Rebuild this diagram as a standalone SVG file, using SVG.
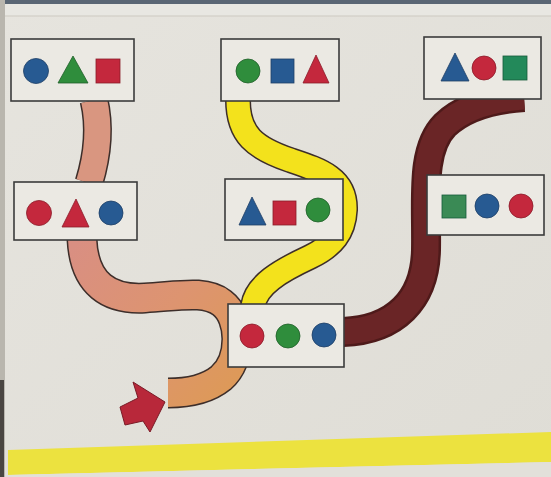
<svg xmlns="http://www.w3.org/2000/svg" width="551" height="477" viewBox="0 0 551 477">
<style>
.box{fill:#ebe9e3;stroke:#3b3b3b;stroke-width:1.6}
.blue{fill:#275a92;stroke:#1e3f66;stroke-width:0.8}
.red{fill:#c4283d;stroke:#8a1c2a;stroke-width:0.8}
.green{fill:#2f8d3c;stroke:#1f5e28;stroke-width:0.8}
.teal{fill:#23895a;stroke:#165a3b;stroke-width:0.8}
.outline{fill:none;stroke:#3d2e2a;stroke-linecap:butt}
</style>
<defs>
<linearGradient id="salmonGrad" gradientUnits="userSpaceOnUse" x1="70" y1="250" x2="240" y2="400">
<stop offset="0" stop-color="#d98f82"/>
<stop offset="0.5" stop-color="#dd9470"/>
<stop offset="1" stop-color="#dd9a55"/>
</linearGradient>
<linearGradient id="paper" x1="0" y1="0" x2="1" y2="1">
<stop offset="0" stop-color="#e6e4de"/>
<stop offset="1" stop-color="#dfddd6"/>
</linearGradient>
</defs>
<!-- background -->
<rect x="0" y="0" width="551" height="477" fill="url(#paper)"/>
<rect x="0" y="0" width="551" height="4" fill="#5a6674"/>
<rect x="0" y="4" width="551" height="12" fill="#e8e7e2"/>
<line x1="0" y1="16" x2="551" y2="16" stroke="#cdc9c1" stroke-width="1"/>
<rect x="0" y="0" width="5" height="477" fill="#b9b6ae"/>
<rect x="0" y="380" width="4" height="97" fill="#4a4642"/>
<polygon points="8,450 551,432 551,462 8,475" fill="#ece23f"/>
<polygon points="8,475 551,462 551,477 8,477" fill="#e2e0da"/>

<g id="connectors">
<!-- salmon: top-left to middle-left -->
<path class="outline" d="M94 100 C101 130 96 160 89 183" stroke-width="29"/>
<path d="M94 100 C101 130 96 160 89 183" fill="none" stroke="#d99680" stroke-width="26"/>
<!-- salmon: middle-left to start (U-turn) -->
<path class="outline" d="M82 239 C84 285 110 300 145 298 C180 296 205 290 222 303 C242 318 242 360 221 378 C205 391 185 393 168 393" stroke-width="31"/>
<path d="M82 239 C84 285 110 300 145 298 C180 296 205 290 222 303 C242 318 242 360 221 378 C205 391 185 393 168 393" fill="none" stroke="url(#salmonGrad)" stroke-width="28"/>
<!-- yellow: top-middle to bottom-middle -->
<path class="outline" d="M238 100 C238 135 255 148 290 160 C320 170 346 178 345 210 C344 232 333 246 310 257 C280 271 256 285 253 306" stroke-width="26"/>
<path d="M238 100 C238 135 255 148 290 160 C320 170 346 178 345 210 C344 232 333 246 310 257 C280 271 256 285 253 306" fill="none" stroke="#f3e21c" stroke-width="23"/>
<!-- maroon: bottom-middle to top-right -->
<path d="M343 332 C395 330 425 300 426 250 C427 200 420 150 445 125 C465 106 495 99 524 97" fill="none" stroke="#4e1a1a" stroke-width="30"/>
<path d="M343 332 C395 330 425 300 426 250 C427 200 420 150 445 125 C465 106 495 99 524 97" fill="none" stroke="#6a2526" stroke-width="25"/>
</g>

<g id="start-arrow">
<polygon points="133,382 165,402 150,432 143,421 125,425 120,407 138,398" fill="#b8283a" stroke="#7a1a26" stroke-width="1"/>
</g>

<g id="node-top-left">
<rect class="box" x="11" y="39" width="123" height="62"/>
<circle class="blue" cx="36" cy="71" r="12.5"/>
<polygon class="green" points="73,56 88,83 58,83"/>
<rect class="red" x="96" y="59" width="24" height="24"/>
</g>

<g id="node-mid-left">
<rect class="box" x="14" y="182" width="123" height="58"/>
<circle class="red" cx="39" cy="213" r="12.5"/>
<polygon class="red" points="76,199 89,227 62,227"/>
<circle class="blue" cx="111" cy="213" r="12"/>
</g>

<g id="node-top-mid">
<rect class="box" x="221" y="39" width="118" height="62"/>
<circle class="green" cx="248" cy="71" r="12"/>
<rect class="blue" x="271" y="59" width="23" height="24"/>
<polygon class="red" points="316,55 329,83 303,83"/>
</g>

<g id="node-mid">
<rect class="box" x="225" y="179" width="118" height="61"/>
<polygon class="blue" points="252,197 266,225 239,225"/>
<rect class="red" x="273" y="201" width="23" height="24"/>
<circle class="green" cx="318" cy="210" r="12"/>
</g>

<g id="node-bottom-mid">
<rect class="box" x="228" y="304" width="116" height="63"/>
<circle class="red" cx="252" cy="336" r="12"/>
<circle class="green" cx="288" cy="336" r="12"/>
<circle class="blue" cx="324" cy="335" r="12"/>
</g>

<g id="node-top-right">
<rect class="box" x="424" y="37" width="117" height="62"/>
<polygon class="blue" points="455,53 469,81 441,81"/>
<circle class="red" cx="484" cy="68" r="12"/>
<rect class="teal" x="503" y="56" width="24" height="24"/>
</g>

<g id="node-mid-right">
<rect class="box" x="427" y="175" width="117" height="60"/>
<rect class="teal" x="442" y="195" width="24" height="23" style="fill:#3a8a55"/>
<circle class="blue" cx="487" cy="206" r="12"/>
<circle class="red" cx="521" cy="206" r="12"/>
</g>
</svg>
